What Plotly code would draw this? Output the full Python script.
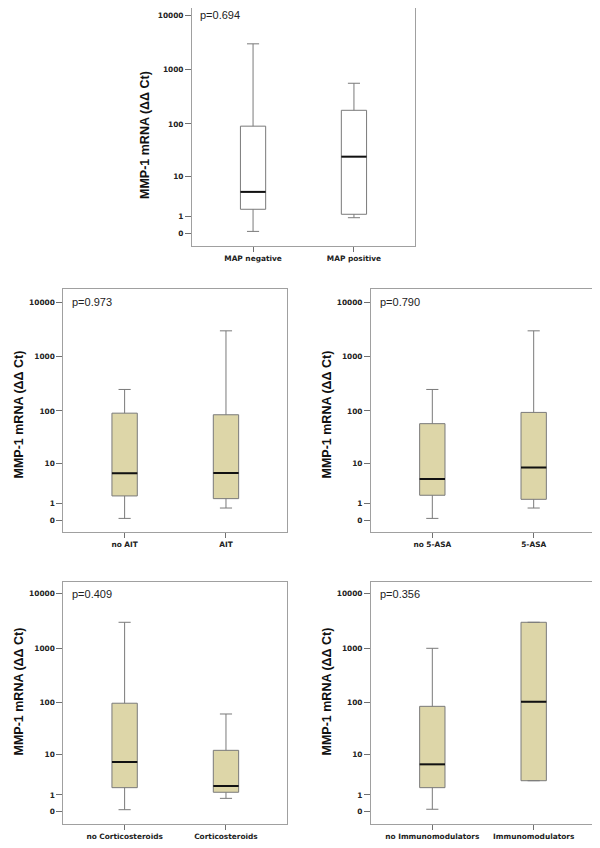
import math
import plotly.graph_objects as go

# ---------------- data ----------------
y_tick_values = [0, 1, 10, 100, 1000, 10000]
y_tick_labels = ["0", "1", "10", "100", "1000", "10000"]
y_title = "MMP-1 mRNA (ΔΔ Ct)"

map_groups = ["MAP negative", "MAP positive"]
map_low = [0.07, 0.91]
map_q1 = [1.73, 1.21]
map_median = [4.7, 24.3]
map_q3 = [91, 179]
map_high = [3000, 565]
map_p = "p=0.694"

ait_groups = ["no AIT", "AIT"]
ait_low = [0.07, 0.66]
ait_q1 = [1.77, 1.47]
ait_median = [6.2, 6.3]
ait_q3 = [91, 85]
ait_high = [250, 3000]
ait_p = "p=0.973"

asa_groups = ["no 5-ASA", "5-ASA"]
asa_low = [0.07, 0.66]
asa_q1 = [1.85, 1.40]
asa_median = [4.7, 8.2]
asa_q3 = [58, 94]
asa_high = [250, 3000]
asa_p = "p=0.790"

cort_groups = ["no Corticosteroids", "Corticosteroids"]
cort_low = [0.07, 0.73]
cort_q1 = [1.72, 1.24]
cort_median = [7.05, 1.92]
cort_q3 = [96, 12.2]
cort_high = [2980, 60.5]
cort_p = "p=0.409"

imm_groups = ["no Immunomodulators", "Immunomodulators"]
imm_low = [0.09, 2.65]
imm_q1 = [1.72, 2.65]
imm_median = [6.3, 102]
imm_q3 = [84, 2980]
imm_high = [990, 2980]
imm_p = "p=0.356"


def f(v):
    return math.log10(v + 1)


OFF = 8                      # page body margin
W, H = 600 - OFF, 848 - OFF  # figure size so it fits the window


def px_x(px):
    return (px - OFF) / W


def px_y(py):
    return 1 - (py - OFF) / H


# (groups, low, q1, median, q3, high, p, fill, frame px (x0,x1,y0,y1), y px of value 0, title center px)
panels = [
    (map_groups, map_low, map_q1, map_median, map_q3, map_high, map_p, "white",
     (192, 415, 8, 246), 233, (145, 135)),
    (ait_groups, ait_low, ait_q1, ait_median, ait_q3, ait_high, ait_p, "#ddd6a8",
     (63.3, 287.3, 289.3, 531.7), 520, (18.5, 415)),
    (asa_groups, asa_low, asa_q1, asa_median, asa_q3, asa_high, asa_p, "#ddd6a8",
     (371, 595, 289.3, 531.7), 520, (326.5, 415)),
    (cort_groups, cort_low, cort_q1, cort_median, cort_q3, cort_high, cort_p, "#ddd6a8",
     (63.3, 287.3, 582, 824), 811.3, (18.5, 692)),
    (imm_groups, imm_low, imm_q1, imm_median, imm_q3, imm_high, imm_p, "#ddd6a8",
     (371, 595, 582.3, 824), 811.3, (326.5, 692)),
]
PX_PER_DECADE = 54.4

fig = go.Figure()
layout = dict(
    width=W, height=H, margin=dict(l=0, r=0, t=0, b=0),
    paper_bgcolor="white", plot_bgcolor="white", showlegend=False,
    annotations=[],
)

tick_font = dict(family="DejaVu Sans", size=7.4, color="#222222", weight="bold")
frame_color = "#a0a0a0"

for k, (groups, low, q1, med, q3, high, ptxt, fill, frame, zero_px, tpos) in enumerate(panels):
    n = k + 1
    xa = "x" if n == 1 else f"x{n}"
    ya = "y" if n == 1 else f"y{n}"
    for i in range(len(groups)):
        fig.add_trace(go.Box(
            x=[i], q1=[f(q1[i])], median=[f(med[i])], q3=[f(q3[i])],
            lowerfence=[f(low[i])], upperfence=[f(high[i])],
            width=0.25, whiskerwidth=0.48, fillcolor=fill,
            line=dict(color="#7a7a7a", width=1), boxpoints=False,
            xaxis=xa, yaxis=ya, hoverinfo="skip",
        ))
        fig.add_trace(go.Scatter(
            x=[i - 0.125, i + 0.125], y=[f(med[i]), f(med[i])], mode="lines",
            line=dict(color="#111111", width=2), xaxis=xa, yaxis=ya, hoverinfo="skip",
        ))
    x0, x1, y0, y1 = frame
    ymin = -(y1 - zero_px) / PX_PER_DECADE
    ymax = (zero_px - y0) / PX_PER_DECADE
    xkey = "xaxis" if n == 1 else f"xaxis{n}"
    ykey = "yaxis" if n == 1 else f"yaxis{n}"
    layout[xkey] = dict(
        domain=[px_x(x0), px_x(x1)], anchor=ya, range=[-0.605, 1.605],
        tickmode="array", tickvals=list(range(len(groups))), ticktext=groups,
        ticks="outside", ticklen=5, tickcolor="#707070", tickfont=tick_font,
        showline=True, linecolor=frame_color, linewidth=1, mirror=True,
        showgrid=False, zeroline=False, fixedrange=True,
    )
    layout[ykey] = dict(
        domain=[px_y(y1), min(1.0, px_y(y0))], anchor=xa, range=[ymin, ymax],
        tickmode="array", tickvals=[f(v) for v in y_tick_values], ticktext=y_tick_labels,
        ticks="outside", ticklen=6, tickcolor="#707070", tickfont=tick_font,
        showline=True, linecolor=frame_color, linewidth=1, mirror=True,
        showgrid=False, zeroline=False, fixedrange=True,
    )
    # p-value: ~12.4 px under the 10000 tick row top area
    p_y_px = zero_px - 4 * PX_PER_DECADE
    layout["annotations"].append(dict(
        text=ptxt, xref="paper", yref="paper",
        x=px_x(x0 + 6.5), y=px_y(p_y_px), xanchor="left", yanchor="middle",
        showarrow=False, font=dict(family="Liberation Sans", size=11, color="#222222"),
    ))
    layout["annotations"].append(dict(
        text=y_title, xref="paper", yref="paper",
        x=px_x(tpos[0]), y=px_y(tpos[1]), xanchor="center", yanchor="middle",
        textangle=-90, showarrow=False,
        font=dict(family="Liberation Sans", size=12.5, color="#111111", weight="bold"),
    ))

fig.update_layout(**layout)
fig.write_html("out.html")
